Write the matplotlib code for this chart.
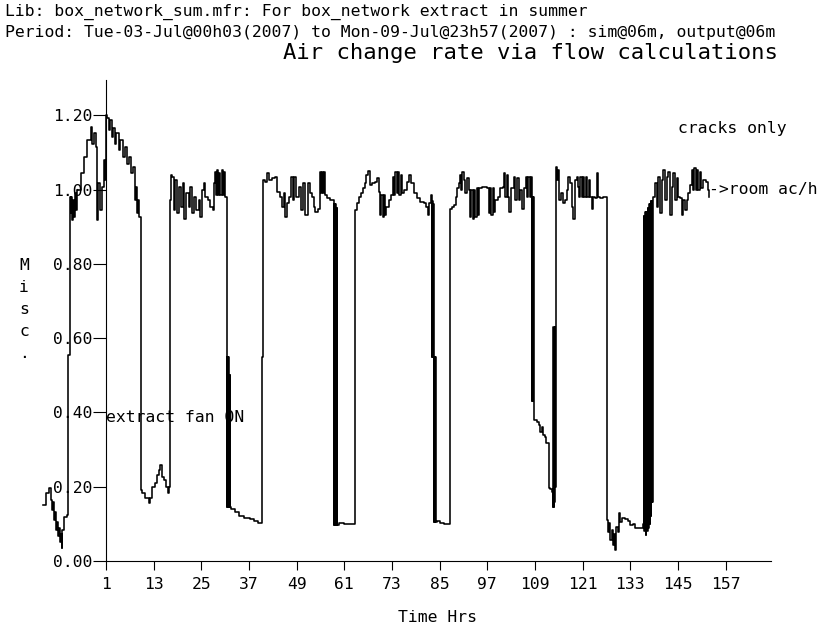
import matplotlib
matplotlib.use('Agg')
import matplotlib.pyplot as plt


header_lib = "Lib: box_network_sum.mfr: For box_network extract in summer"
header_period = ("Period: Tue-03-Jul@00h03(2007) to Mon-09-Jul@23h57(2007) "
                 ": sim@06m, output@06m")
title = "Air change rate via flow calculations"
y_label = "Misc."
x_label = "Time Hrs"
series_label = "->room ac/h"
note_fan = "extract fan ON"
note_cracks = "cracks only"

x_ticks = [1, 13, 25, 37, 49, 61, 73, 85, 97, 109, 121, 133, 145, 157]
y_ticks = [0.0, 0.2, 0.4, 0.6, 0.8, 1.0, 1.2]

# room air change rate (ac/h)
hours = [
    -14.89, -14.21, -14.05, -13.38, -12.96, -12.54, -12.37, -12.12, -11.87,
    -11.53, -11.28, -11.03, -10.86, -10.61, -10.36, -10.19, -10.02, -9.60,
    -8.76, -8.60, -8.55, -8.15, -8.10, -7.92, -7.76, -7.50, -7.25, -7.00,
    -6.75, -6.50, -6.25, -5.41, -4.57, -3.73, -2.89, -2.47, -2.06, -1.64,
    -1.22, -0.96, -0.63, -0.13, 0.46, 0.71, 1.05, 1.30, 1.72, 1.97, 2.39,
    2.72, 3.23, 3.56, 4.23, 4.65, 5.24, 5.74, 6.33, 6.75, 7.34, 7.76, 8.18,
    8.43, 8.85, 9.10, 9.43, 9.69, 10.11, 10.94, 11.78, 12.20, 12.62, 13.46,
    13.88, 14.30, 14.72, 15.14, 15.55, 16.14, 16.65, 16.90, 17.06, 17.35,
    17.65, 18.07, 18.49, 18.91, 19.50, 19.92, 20.42, 20.75, 21.26, 21.84,
    22.26, 22.68, 23.27, 23.77, 24.36, 24.78, 25.20, 25.62, 26.04, 26.62,
    27.30, 27.88, 28.13, 28.38, 28.64, 28.89, 29.14, 29.48, 29.81, 30.15,
    30.48, 30.82, 31.07, 31.30, 31.35, 31.45, 31.55, 31.65, 31.75, 31.85,
    31.95, 32.05, 32.15, 32.25, 32.50, 33.58, 34.42, 35.68, 37.36, 38.20,
    39.20, 39.87, 40.13, 40.15, 40.46, 40.50, 40.96, 41.55, 42.14, 42.81,
    43.65, 44.07, 44.91, 45.33, 45.74, 46.16, 46.58, 47.17, 47.67, 48.09,
    48.43, 48.85, 49.52, 50.11, 50.61, 51.19, 51.78, 52.45, 52.87, 53.29,
    53.71, 54.38, 54.89, 55.06, 55.47, 55.72, 55.97, 56.23, 56.65, 57.48,
    58.32, 58.40, 58.50, 58.60, 58.70, 58.80, 58.90, 59.00, 59.10, 59.20,
    59.58, 60.42, 60.84, 62.94, 63.61, 63.77, 63.80, 64.19, 64.61, 65.20,
    65.62, 66.12, 66.54, 66.96, 67.38, 67.97, 68.81, 69.23, 69.64, 69.98,
    70.31, 70.65, 70.99, 71.32, 71.57, 72.16, 72.75, 73.16, 73.58, 73.84,
    74.17, 74.51, 74.84, 75.18, 75.51, 76.10, 76.77, 77.36, 77.86, 78.45,
    79.29, 80.13, 80.96, 81.55, 82.06, 82.39, 82.73, 83.06, 83.10, 83.20,
    83.30, 83.40, 83.50, 83.60, 83.70, 83.80, 83.90, 84.00, 84.10, 84.20,
    84.32, 85.16, 86.00, 87.42, 87.50, 87.52, 88.09, 88.68, 89.10, 89.35,
    89.77, 90.02, 90.36, 90.69, 91.03, 91.45, 91.87, 92.28, 92.62, 92.96,
    93.29, 93.63, 93.96, 94.30, 94.64, 94.97, 95.64, 96.48, 96.90, 97.32,
    97.65, 97.99, 98.32, 98.57, 98.99, 99.58, 100.25, 100.84, 101.17,
    101.51, 101.84, 102.18, 102.43, 102.94, 103.61, 104.03, 104.44, 104.86,
    105.28, 105.70, 106.12, 106.62, 106.96, 107.30, 107.63, 107.97, 108.15,
    108.25, 108.35, 108.45, 108.55, 108.65, 108.70, 109.48, 109.90, 110.31,
    110.73, 110.90, 111.57, 111.82, 112.41, 112.45, 112.83, 113.25, 113.50,
    113.60, 113.70, 113.80, 113.90, 114.00, 114.10, 114.20, 114.50, 114.75,
    115.09, 115.51, 116.02, 116.60, 117.02, 117.44, 117.86, 118.28, 118.70,
    119.12, 119.53, 119.95, 120.13, 120.46, 120.80, 121.13, 121.47, 121.80,
    122.14, 122.48, 122.89, 123.31, 123.65, 124.15, 124.57, 124.82, 125.41,
    126.25, 127.09, 127.17, 127.50, 127.76, 128.01, 128.34, 128.68, 129.01,
    129.18, 129.52, 129.85, 130.19, 130.44, 130.86, 131.70, 132.54, 132.96,
    133.79, 134.21, 135.47, 136.31, 136.40, 136.50, 136.60, 136.70, 136.80,
    136.90, 137.00, 137.10, 137.20, 137.30, 137.40, 137.50, 137.60, 137.70,
    137.80, 137.90, 138.00, 138.10, 138.20, 138.30, 138.40, 138.50, 138.60,
    138.70, 138.80, 139.25, 139.66, 140.08, 140.50, 140.92, 141.34, 141.76,
    142.18, 142.60, 143.02, 143.44, 143.86, 144.28, 144.70, 145.11, 145.53,
    145.95, 146.37, 146.79, 147.21, 147.63, 148.05, 148.47, 148.72, 149.06,
    149.48, 149.81, 150.15, 150.48, 150.82, 151.40, 151.99, 152.50, 152.83,
]
room_ach = [
    0.151, 0.151, 0.182, 0.196, 0.164, 0.137, 0.160, 0.110, 0.133,
    0.083, 0.106, 0.066, 0.088, 0.052, 0.074, 0.034, 0.083, 0.119,
    0.124, 0.124, 0.555, 0.555, 0.980, 0.936, 0.981, 0.918, 0.972, 0.927,
    0.990, 0.945, 0.999, 1.044, 1.088, 1.133, 1.169, 1.124, 1.151, 1.115,
    0.918, 1.017, 0.945, 1.008, 1.079, 1.026, 1.200, 1.192, 1.160, 1.187, 1.142,
    1.165, 1.124, 1.151, 1.106, 1.133, 1.088, 1.115, 1.070, 1.088, 1.044, 1.061, 0.972,
    1.008, 0.936, 0.972, 0.927, 0.191, 0.182, 0.169, 0.155, 0.169, 0.200, 0.209,
    0.231, 0.245, 0.258, 0.227, 0.218, 0.200, 0.182, 0.200, 0.972, 1.039,
    1.035, 0.945, 1.026, 0.936, 1.008, 0.954, 1.017, 0.922, 0.990, 0.954,
    1.008, 0.936, 0.981, 0.945, 0.972, 0.927, 0.999, 1.017, 0.981, 0.972,
    0.954, 0.945, 1.017, 1.048, 0.985, 1.052, 0.985, 1.044, 0.985, 1.052,
    0.985, 1.048, 0.981, 0.981, 0.550, 0.146, 0.550, 0.146, 0.550, 0.146,
    0.550, 0.146, 0.500, 0.146, 0.139, 0.133, 0.121, 0.115, 0.112, 0.109,
    0.101, 0.103, 0.103, 0.550, 0.550, 1.026, 1.021, 1.044, 1.026, 1.030,
    1.035, 0.994, 0.981, 0.954, 0.990, 0.927, 0.963, 0.981, 1.035, 0.972,
    1.035, 0.981, 1.008, 0.945, 1.017, 0.931, 1.017, 0.990, 0.981, 0.954,
    0.940, 0.949, 1.048, 0.990, 1.048, 0.990, 1.048, 0.985, 0.976, 0.972,
    0.963, 0.097, 0.960, 0.097, 0.960, 0.097, 0.950, 0.097, 0.950, 0.097,
    0.103, 0.103, 0.100, 0.100, 0.103, 0.103, 0.945, 0.963, 0.981, 0.990,
    1.003, 1.017, 1.039, 1.050, 1.012, 1.017, 1.021, 1.030, 0.994, 0.931,
    0.985, 0.927, 0.985, 0.931, 0.954, 0.972, 0.985, 1.035, 0.985, 1.048,
    0.990, 1.048, 0.985, 1.039, 0.990, 0.999, 1.021, 1.039, 1.017, 0.990,
    0.976, 0.967, 0.963, 0.954, 0.931, 0.963, 0.985, 0.972, 0.550, 0.970,
    0.550, 0.960, 0.550, 0.106, 0.550, 0.106, 0.550, 0.106, 0.500, 0.106,
    0.109, 0.101, 0.100, 0.099, 0.099, 0.949, 0.954, 0.958, 0.981, 1.003,
    1.017, 1.039, 0.999, 1.048, 1.026, 0.990, 1.030, 0.999, 0.927, 0.999,
    0.922, 0.999, 0.927, 1.003, 0.931, 1.003, 1.008, 1.008, 1.003, 0.936,
    1.003, 0.931, 1.003, 0.940, 0.972, 0.981, 1.003, 1.008, 1.044,
    0.981, 1.039, 0.981, 0.940, 1.003, 1.035, 0.972, 1.030, 0.972,
    0.999, 0.949, 1.003, 1.035, 0.981, 1.035, 0.981, 1.035, 0.985,
    0.430, 0.980, 0.430, 0.980, 0.424, 0.380, 0.375, 0.366, 0.348,
    0.362, 0.339, 0.335, 0.319, 0.317, 0.196, 0.193, 0.187, 0.146,
    0.630, 0.146, 0.630, 0.160, 0.630, 0.200, 1.061, 1.026, 1.052,
    0.972, 0.990, 0.963, 0.972, 0.999, 1.035, 1.017, 0.954, 0.922,
    1.026, 1.035, 1.008, 0.981, 1.035, 0.981, 1.035, 0.981, 1.035,
    0.981, 1.026, 0.981, 0.949, 0.981, 0.976, 1.044, 0.981, 0.976,
    0.981, 0.981, 0.110, 0.079, 0.101, 0.057, 0.083, 0.043, 0.074,
    0.030, 0.092, 0.079, 0.130, 0.106, 0.115, 0.112, 0.109, 0.097,
    0.100, 0.088, 0.088, 0.100, 0.930, 0.080, 0.930, 0.080, 0.940,
    0.070, 0.940, 0.080, 0.940, 0.080, 0.950, 0.090, 0.950, 0.090,
    0.960, 0.100, 0.960, 0.120, 0.970, 0.160, 0.970, 0.160, 0.970,
    0.170, 0.980, 1.017, 0.954, 1.035, 0.936, 1.026, 1.052, 0.972,
    1.035, 1.048, 0.931, 1.008, 1.044, 0.972, 1.030, 0.981, 0.976,
    0.931, 0.972, 0.945, 0.972, 0.990, 1.012, 1.052, 0.999, 1.057,
    0.999, 1.052, 0.999, 1.048, 1.003, 1.026, 1.021, 0.999, 0.981,
]

W, H = 832, 627
mono = 'DejaVu Sans Mono'
fs = 11.8


def px(x, y):
    return x / W, 1 - y / H


fig = plt.figure(figsize=(W / 100, H / 100), dpi=100)
ax = fig.add_axes([106 / W, 1 - 561 / H, (770.7 - 106) / W, (561 - 80) / H])

ax.plot(hours, room_ach, color='black', lw=1.15, drawstyle='steps-post',
        clip_on=False)

ax.set_xlim(1, 168.35)
ax.set_ylim(0, 1.295)
ax.set_xticks(x_ticks)
ax.set_xticklabels([str(t) for t in x_ticks], family=mono, fontsize=fs)
ax.set_yticks(y_ticks)
ax.set_yticklabels([f'{t:.2f}' for t in y_ticks], family=mono, fontsize=fs)
ax.tick_params(axis='x', direction='out', length=6.5, width=0.8, pad=5)
ax.tick_params(axis='y', direction='out', length=9.4, width=0.8, pad=0.5)
for side in ['top', 'right']:
    ax.spines[side].set_visible(False)
for side in ['left', 'bottom']:
    ax.spines[side].set_linewidth(0.8)

ax.text(1.1, 0.385, note_fan, family=mono, fontsize=fs, va='center')
ax.text(145.0, 1.165, note_cracks, family=mono, fontsize=fs, va='center',
        clip_on=False)
ax.text(152.9, 1.0, series_label, family=mono, fontsize=fs, va='center',
        clip_on=False)

fig.text(*px(5, 12), header_lib, family=mono, fontsize=fs, va='center')
fig.text(*px(5, 32), header_period, family=mono, fontsize=fs, va='center')
fig.text(*px(530, 53), title, family=mono, fontsize=16, va='center',
         ha='center')
fig.text(*px(437, 617), x_label, family=mono, fontsize=fs, va='center',
         ha='center')
for i, ch in enumerate(y_label):
    fig.text(*px(24, 265 + 22 * i), ch, family=mono, fontsize=fs,
             va='center', ha='center')

fig.savefig('out.png', dpi=100)
